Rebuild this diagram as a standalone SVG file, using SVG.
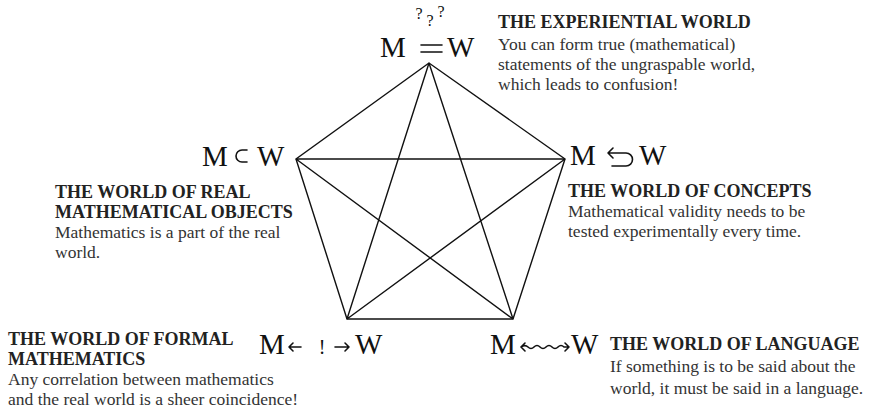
<svg xmlns="http://www.w3.org/2000/svg" width="885" height="409" viewBox="0 0 885 409">
<style>
.m{font-family:"Liberation Serif",serif;font-size:29px;fill:#111}
.q{font-family:"Liberation Serif",serif;font-size:16px;fill:#111}
.t{font-family:"Liberation Serif",serif;font-weight:bold;font-size:18px;fill:#222}
.b{font-family:"Liberation Serif",serif;font-size:17.5px;fill:#333}
.e{stroke:#111;stroke-width:1.4;fill:none}
.s{stroke:#111;stroke-width:1.6;fill:none;stroke-linecap:round;stroke-linejoin:round}
</style>
<rect width="885" height="409" fill="#fff"/>
<g id="connectors">
<path class="e" d="M429 63L296 159L347 319L513 319L565 159Z"/>
<path class="e" d="M429 63L347 319M429 63L513 319M296 159L565 159M296 159L513 319M565 159L347 319"/>
</g>
<g id="experiential">
<text class="m" x="380" y="57">M</text>
<path class="s" d="M421 45H442M421 52H442"/>
<text class="q" x="419" y="19" text-anchor="middle">?</text>
<text class="q" x="430" y="26" text-anchor="middle">?</text>
<text class="q" x="441" y="17" text-anchor="middle">?</text>
<text class="m" x="447" y="57">W</text>
<text class="t" x="498" y="28">THE EXPERIENTIAL WORLD</text>
<text class="b" x="498" y="50">You can form true (mathematical)</text>
<text class="b" x="498" y="70">statements of the ungraspable world,</text>
<text class="b" x="498" y="90">which leads to confusion!</text>
</g>
<g id="real-objects">
<text class="m" x="202" y="166">M</text>
<path class="s" d="M247 150H242A6 6 0 0 0 242 162H247"/>
<text class="m" x="257" y="166">W</text>
<text class="t" x="55" y="198">THE WORLD OF REAL</text>
<text class="t" x="55" y="218">MATHEMATICAL OBJECTS</text>
<text class="b" x="55" y="238">Mathematics is a part of the real</text>
<text class="b" x="55" y="258">world.</text>
</g>
<g id="concepts">
<text class="m" x="570" y="165">M</text>
<path class="s" d="M608 153H626A6.5 6.5 0 0 1 626 166H612M613 148L608 153L613 158"/>
<text class="m" x="639" y="165">W</text>
<text class="t" x="568" y="197">THE WORLD OF CONCEPTS</text>
<text class="b" x="568" y="217">Mathematical validity needs to be</text>
<text class="b" x="568" y="237">tested experimentally every time.</text>
</g>
<g id="formal">
<text class="m" x="259" y="354">M</text>
<path class="s" d="M289 347H301M293 343L289 347L293 351"/>
<text class="m" x="322" y="354" text-anchor="middle" style="font-size:20px">!</text>
<path class="s" d="M335 347H349M345 343L349 347L345 351"/>
<text class="m" x="355" y="354">W</text>
<text class="t" x="8" y="345">THE WORLD OF FORMAL</text>
<text class="t" x="8" y="365">MATHEMATICS</text>
<text class="b" x="8" y="385">Any correlation between mathematics</text>
<text class="b" x="8" y="405">and the real world is a sheer coincidence!</text>
</g>
<g id="language">
<text class="m" x="490" y="354">M</text>
<path class="s" d="M521 347C524 345 526 345 528 347S532 349 534 347S538 345 540 347S544 349 546 347S550 345 552 347S556 349 558 347S562 345 564 347H569M525 343L521 347L525 351M565 343L569 347L565 351"/>
<text class="m" x="571" y="354">W</text>
<text class="t" x="610" y="350">THE WORLD OF LANGUAGE</text>
<text class="b" x="610" y="372">If something is to be said about the</text>
<text class="b" x="610" y="394">world, it must be said in a language.</text>
</g>
</svg>
